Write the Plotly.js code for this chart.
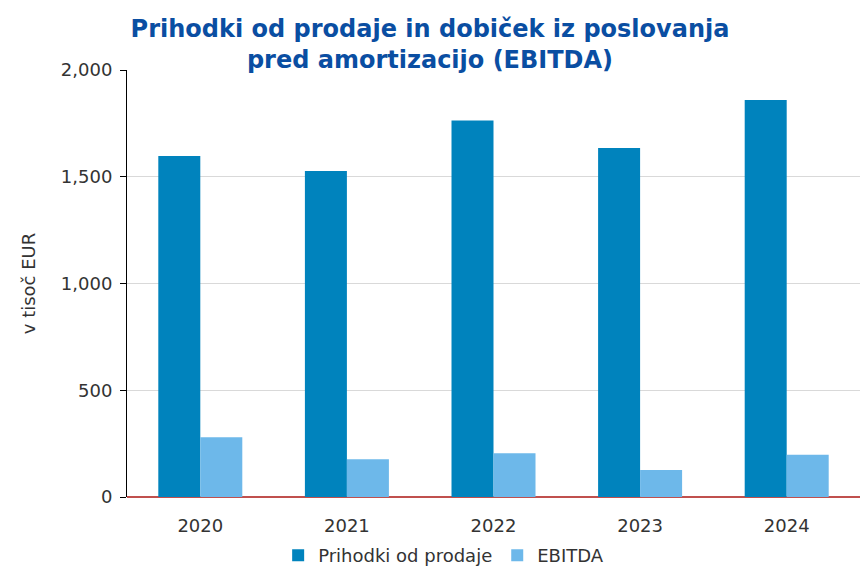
<!DOCTYPE html>
<html><head><meta charset="utf-8">
<script src="https://cdn.plot.ly/plotly-3.0.1.min.js"></script>
<style>body{margin:0;background:#fff}#c{width:860px;height:568px}</style>
</head><body><div id="c"></div>
<script>
var years = ['2020','2021','2022','2023','2024'];
var prihodki = [1597, 1527, 1764, 1635, 1859];
var ebitda = [280, 177, 205, 126, 198];
var seriesNames = ['Prihodki od prodaje', 'EBITDA'];
var yTicks = [0, 500, 1000, 1500, 2000];

var font = 'DejaVu Sans, Verdana, sans-serif';
var traces = [
  {type:'bar', x:years, y:prihodki, name:seriesNames[0], marker:{color:'#0083BD'}},
  {type:'bar', x:years, y:ebitda, name:seriesNames[1], marker:{color:'#6DB8EA'}}
];
var layout = {
  width:860, height:568,
  margin:{l:127, r:0, t:70, b:71},
  paper_bgcolor:'#fff', plot_bgcolor:'#fff',
  barmode:'group', bargap:0.427, bargroupgap:0,
  title:{text:'Prihodki od prodaje in dobiček iz poslovanja<br>pred amortizacijo (EBITDA)',
    font:{family:font, size:24, color:'#0A4EA2', weight:'bold'},
    x:0.5, xanchor:'center', yref:'container', y:0.935, yanchor:'middle'},
  font:{family:font, color:'#333'},
  xaxis:{type:'category', tickfont:{size:18, color:'#333'}, showline:false, ticks:'', zeroline:false,
    ticklabelstandoff:16},
  yaxis:{range:[0,2000], tickvals:yTicks, ticktext:['0','500','1,000','1,500','2,000'],
    tickfont:{size:18, color:'#333'}, showgrid:true, gridcolor:'#D9D9D9', gridwidth:1,
    showline:true, linecolor:'#000', linewidth:1, ticks:'outside', ticklen:6, tickcolor:'#000',
    ticklabelstandoff:4,
    zeroline:true, zerolinecolor:'#C0504D', zerolinewidth:2,
    title:{text:'v tisoč EUR', font:{size:18, color:'#333'}, standoff:20}},
  legend:{orientation:'h', x:0.432, xanchor:'center', yref:'container', y:0.022, yanchor:'middle',
    font:{size:18, color:'#333'}, itemwidth:20, tracegroupgap:0},
  showlegend:true
};
Plotly.newPlot('c', traces, layout, {displayModeBar:false, staticPlot:true});
</script></body></html>
